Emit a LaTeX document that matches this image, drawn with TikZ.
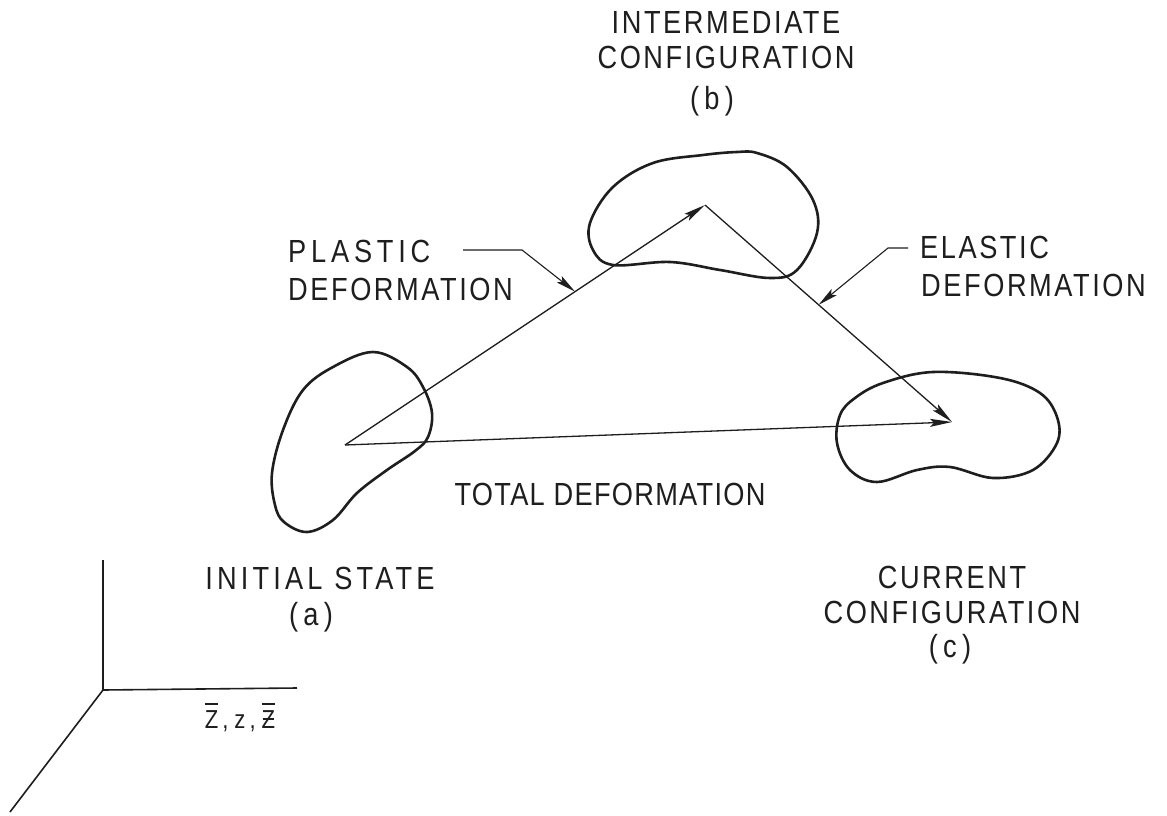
\documentclass[tikz,border=0pt]{standalone}
\usepackage{fontspec}
\newfontfamily\labfont{Liberation Sans}[FakeStretch=0.85,LetterSpace=8]
\usetikzlibrary{arrows.meta,calc}
\definecolor{ink}{RGB}{30,30,30}
\newcommand\mybarZ{\ooalign{Z\cr\hidewidth\raisebox{0.9em}{\rule{0.5em}{0.06em}}\hidewidth\cr}}
\newcommand\mystrZ{\ooalign{Z\cr\hidewidth\raisebox{0.9em}{\rule{0.5em}{0.06em}}\hidewidth\cr\hidewidth\raisebox{0.33em}{\rule{0.45em}{0.06em}}\hidewidth\cr}}
\newcommand\lsp[1]{\addfontfeature{LetterSpace=#1}}
\begin{document}
\begin{tikzpicture}[x=1pt,y=-1pt,
  lab/.style={font={\labfont\fontsize{32}{36}\selectfont}, inner sep=0pt, text=ink},
  axlab/.style={font={\labfont\fontsize{26}{30}\selectfont}, inner sep=0pt, text=ink},
  blob/.style={draw=ink, line width=2.6pt},
  arr/.style={draw=ink, line width=1.3pt, -{Stealth[length=22pt,width=8pt,inset=4pt]}},
  lead/.style={draw=ink, line width=1.1pt, -{Stealth[length=20pt,width=8pt,inset=4pt]}},
  axis/.style={draw=ink, line width=1.6pt}]
\useasboundingbox (0,0) rectangle (1167,816);
\fill[white] (0,0) rectangle (1167,816);

% key points
\coordinate (A) at (345,445);
\coordinate (B) at (705,205);
\coordinate (C) at (952,422);

% blobs
\draw[blob] plot[smooth cycle, tension=0.6] coordinates {(373,352) (407,367) (423,387) (432,413) (428,437) (415,451) (387,470) (357,493) (333,520) (307,532) (284,522) (275,505) (272,473) (283,430) (303,390) (333,367)};
\draw[blob] plot[smooth cycle, tension=0.6] coordinates {(737,152) (757,153) (787,167) (813,200) (817,233) (797,270) (770,278) (720,270) (670,262) (613,265) (593,250) (590,223) (613,187) (653,163) (703,155)};
\draw[blob] plot[smooth cycle, tension=0.6] coordinates {(933,372) (1000,378) (1040,393) (1057,417) (1057,443) (1033,470) (993,478) (950,467) (917,470) (877,482) (850,470) (837,443) (840,415) (855,398) (883,383)};

% deformation arrows
\draw[arr] (A) -- (B);
\draw[arr] (B) -- (C);
\draw[arr] (A) -- (C);

% labels
\node[lab] (tb1) at (726,22) {INTERMEDIATE};
\node[lab] (tb2) at (726,57) {CONFIGURATION};
\node[lab] (tb3) at (712,101) {(\,b\,)};
\node[lab, anchor=west] (tp1) at (288,251) {\lsp{15}PLASTIC};
\node[lab, anchor=west] (tp2) at (288,289) {DEFORMATION};
\node[lab, anchor=west] (te1) at (920,247) {ELASTIC};
\node[lab, anchor=west] (te2) at (921,285) {DEFORMATION};
\node[lab] (tt) at (610,494) {\lsp{4}TOTAL DEFORMATION};
\node[lab] (ta1) at (320,578) {\lsp{13}INITIAL STATE};
\node[lab] (ta2) at (311,617) {(\,a\,)};
\node[lab] (tc1) at (952,577) {CURRENT};
\node[lab] (tc2) at (952,612) {CONFIGURATION};
\node[lab] (tc3) at (950,649) {(\,c\,)};

% leaders
\coordinate (p0) at (463,250);
\coordinate (p1) at (522,250);
\coordinate (pt) at ($(A)!0.639!(B)$);
\draw[lead] (p0) -- (p1) -- (pt);
\coordinate (e0) at (908,248);
\coordinate (e1) at (888,248);
\coordinate (et) at ($(B)!0.46!(C)$);
\draw[lead] (e0) -- (e1) -- (et);

% axes
\coordinate (O) at (103,690);
\coordinate (Oy) at (103,560);
\coordinate (Ox) at (297,688);
\coordinate (Oz) at (10,812);
\draw[axis] (Oy) -- (O) -- (Ox);
\draw[axis] (O) -- (Oz);
\node[axlab] (zl) at (240,721) {\mybarZ\hspace{4pt},\hspace{6pt}z\hspace{4pt},\hspace{6pt}\mystrZ};
\end{tikzpicture}
\end{document}
